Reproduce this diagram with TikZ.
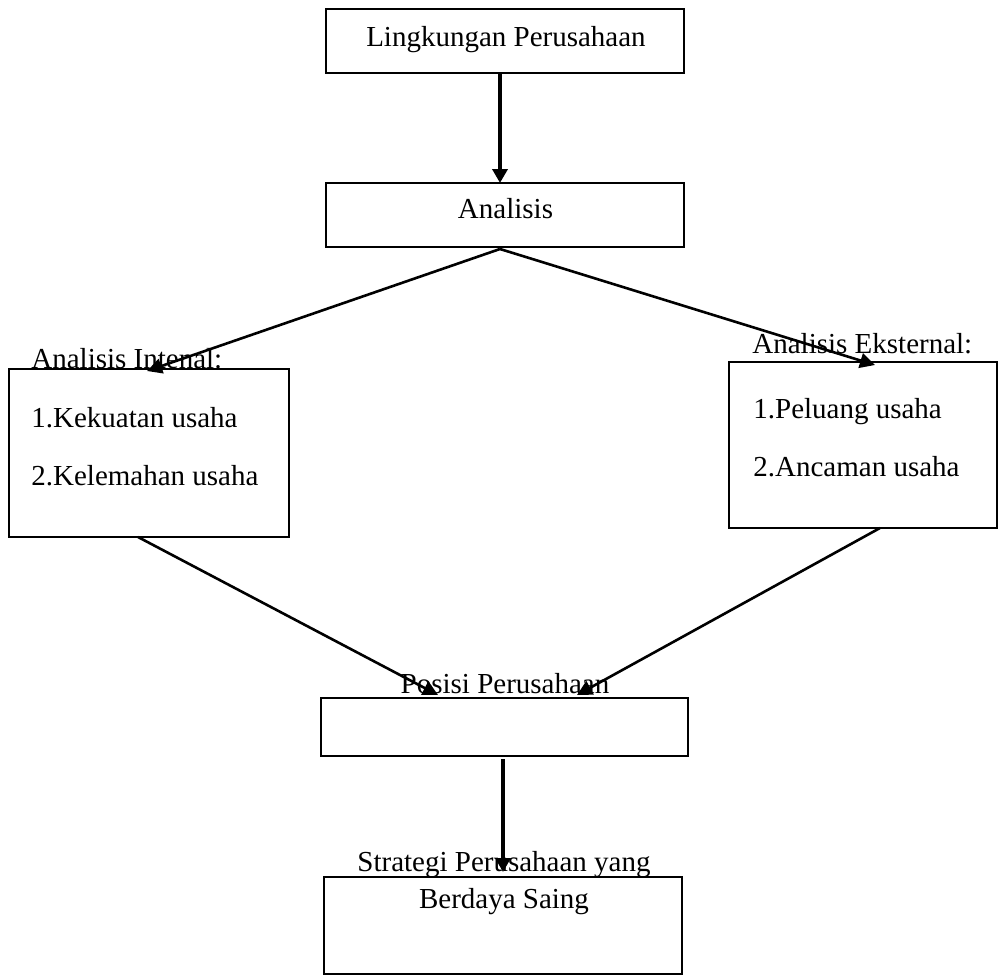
\documentclass[tikz,border=0pt]{standalone}
\usepackage{fontspec}
\setmainfont{Liberation Serif}
\usetikzlibrary{arrows.meta}
\begin{document}
\begin{tikzpicture}[x=0.5pt,y=-0.5pt,
  box/.style={draw=black,line width=1pt,rectangle,inner sep=0pt},
  lbl/.style={inner sep=0pt,font=\fontsize{14.5}{17}\selectfont},
  vline/.style={line width=1.8pt,-{Triangle[length=7pt,width=7.5pt]}},
  dline/.style={line width=1.3pt,-{Triangle[length=7.5pt,width=7.5pt]}}]
\useasboundingbox (0,0) rectangle (998,976);

% boxes
\node[box,minimum width=179pt,minimum height=32pt] (lp) at (505,41) {};
\node[box,minimum width=179pt,minimum height=32pt] (an) at (505,215) {};
\node[box,minimum width=140pt,minimum height=84pt] (ai) at (149,453) {};
\node[box,minimum width=134pt,minimum height=83pt] (ae) at (863,445) {};
\node[box,minimum width=183.5pt,minimum height=29pt] (pp) at (504.5,727) {};
\node[box,minimum width=179pt,minimum height=48.5pt] (sp) at (503,925.5) {};

% texts
\node[lbl,anchor=base] (tlp) at (506,46) {Lingkungan Perusahaan};
\node[lbl,anchor=base] (tan) at (505.5,218) {Analisis};
\node[lbl,anchor=base west] (tai) at (31,368) {Analisis Intenal:};
\node[lbl,anchor=base west] (tai1) at (31,427) {1.Kekuatan usaha};
\node[lbl,anchor=base west] (tai2) at (31,485) {2.Kelemahan usaha};
\node[lbl,anchor=base west] (tae) at (752,353) {Analisis Eksternal:};
\node[lbl,anchor=base west] (tae1) at (753,418) {1.Peluang usaha};
\node[lbl,anchor=base west] (tae2) at (753,476) {2.Ancaman usaha};
\node[lbl,anchor=base] (tpp) at (505,693) {Posisi Perusahaan};
\node[lbl,anchor=base] (tsp1) at (504,871) {Strategi Perusahaan yang};
\node[lbl,anchor=base] (tsp2) at (504,908) {Berdaya Saing};

% connector end points
\coordinate (t1) at (500,183);
\coordinate (fork) at (500,249);
\coordinate (tipL) at (147,371);
\coordinate (tipR) at (875,365);
\coordinate (fromL) at (138,537);
\coordinate (fromR) at (880,528);
\coordinate (inL) at (438,695);
\coordinate (inR) at (577,695);
\coordinate (down0) at (503,759);
\coordinate (down1) at (503,872);

% connectors
\draw[vline] (lp.south -| t1) -- (t1);
\draw[dline] (fork) -- (tipL);
\draw[dline] (fork) -- (tipR);
\draw[dline] (fromL) -- (inL);
\draw[dline] (fromR) -- (inR);
\draw[vline] (down0) -- (down1);
\end{tikzpicture}
\end{document}
